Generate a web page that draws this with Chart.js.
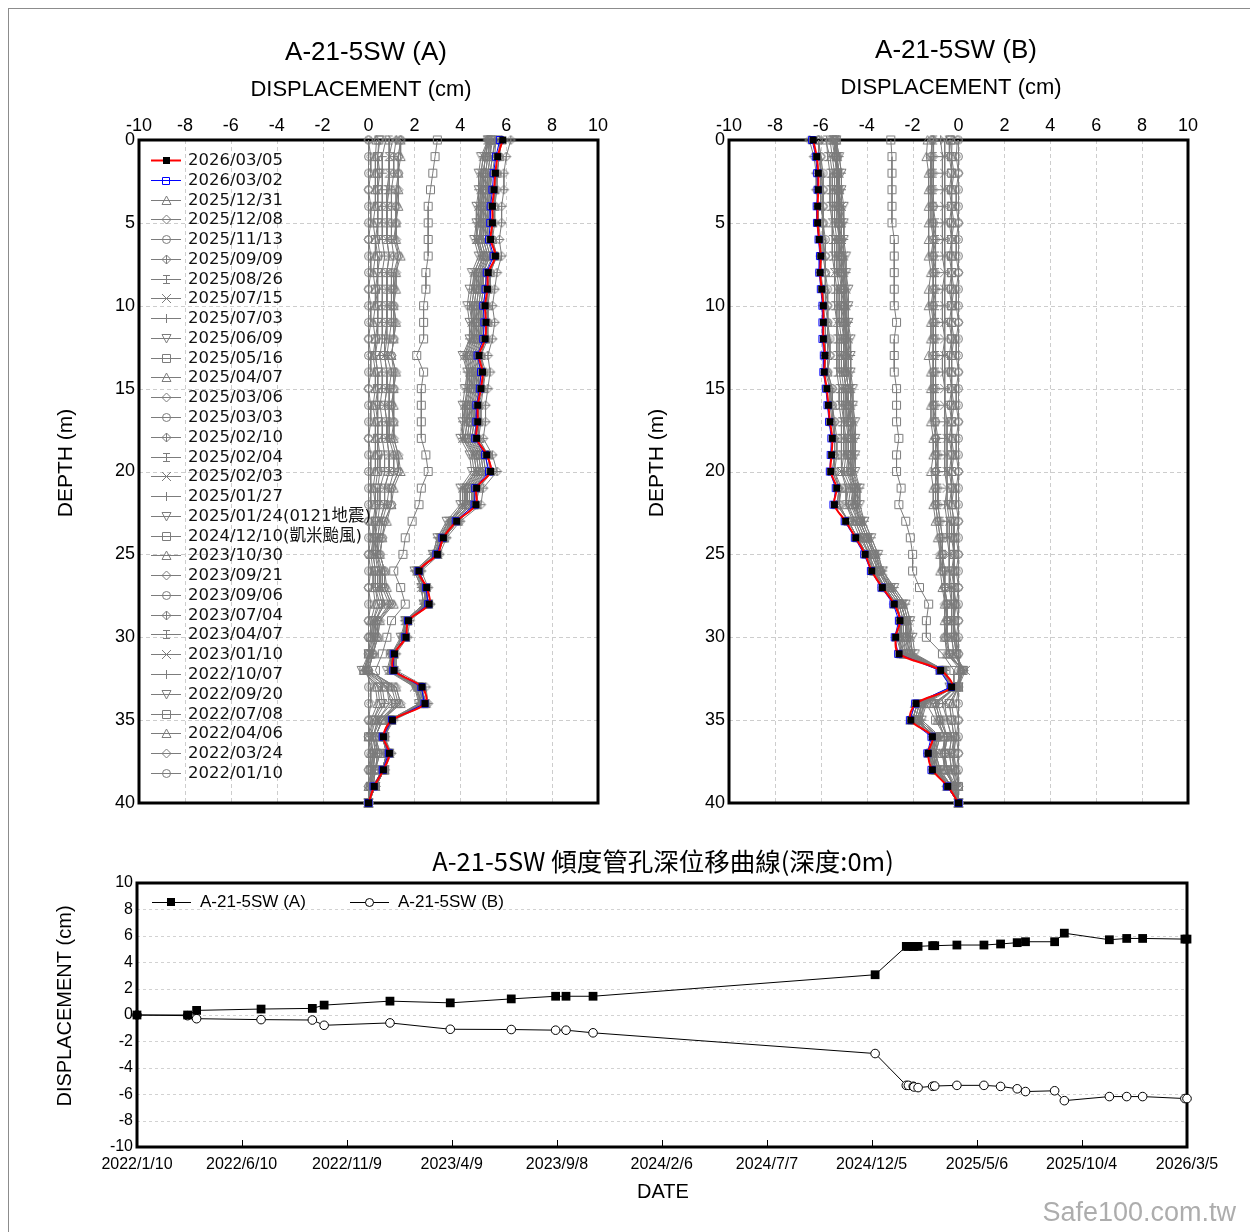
<!DOCTYPE html>
<html><head><meta charset="utf-8">
<script src="https://cdn.jsdelivr.net/npm/chart.js@4/dist/chart.umd.min.js"></script>
<style>
html,body{margin:0;padding:0;background:#fff;}
#page{position:relative;width:1250px;height:1232px;overflow:hidden;background:#fff;}
#frame{position:absolute;left:8px;top:8px;width:1300px;height:1300px;border-left:1px solid #8c8c8c;border-top:1px solid #8c8c8c;}
canvas{position:absolute;}
</style></head><body>
<div id="page"><div id="frame"></div>
<canvas id="cA" width="640" height="830" style="left:0;top:0"></canvas>
<canvas id="cB" width="640" height="830" style="left:590px;top:0"></canvas>
<canvas id="cT" width="1250" height="392" style="left:0;top:840px"></canvas>
</div>
<script>
// ---------------- DATA ----------------
const DEPTHS = [0,1,2,3,4,5,6,7,8,9,10,11,12,13,14,15,16,17,18,19,20,21,22,23,24,25,26,27,28,29,30,31,32,33,34,35,36,37,38,39,40];
const PROFILE_DATES = ['2026/03/05','2026/03/02','2025/12/31','2025/12/08','2025/11/13','2025/09/09','2025/08/26','2025/07/15','2025/07/03','2025/06/09','2025/05/16','2025/04/07','2025/03/06','2025/03/03','2025/02/10','2025/02/04','2025/02/03','2025/01/27','2025/01/24(0121地震)','2024/12/10(凱米颱風)','2023/10/30','2023/09/21','2023/09/06','2023/07/04','2023/04/07','2023/01/10','2022/10/07','2022/09/20','2022/07/08','2022/04/06','2022/03/24','2022/01/10'];
const X_TICKS_PROFILE = [-10,-8,-6,-4,-2,0,2,4,6,8,10];

// ----- Profile A (cm) -----
const A_260305 = [5.85,5.63,5.53,5.47,5.40,5.40,5.32,5.53,5.22,5.18, 5.08,5.12,5.08,4.82,4.97,4.90,4.76,4.76,4.71,5.15, 5.32,4.71,4.68,3.84,3.26,3.00,2.20,2.53,2.64,1.74, 1.63,1.13,1.11,2.33,2.46,1.04,0.65,0.91,0.65,0.25, 0];
const A_260302 = [5.72,5.55,5.45,5.40,5.32,5.30,5.25,5.45,5.15,5.10, 5.00,5.05,5.00,4.75,4.90,4.85,4.70,4.70,4.65,5.08, 5.25,4.65,4.62,3.80,3.22,2.96,2.18,2.50,2.60,1.72, 1.60,1.10,1.08,2.30,2.44,1.02,0.62,0.88,0.62,0.22, 0];
const A_251231 = [5.8,5.7,5.6,5.5,5.5,5.4,5.4,5.6,5.3,5.2, 5.2,5.2,5.1,4.9,5.0,5.0,4.8,4.8,4.8,5.2, 5.3,4.8,4.7,3.9,3.3,3.0,2.2,2.5,2.6,1.7, 1.6,1.1,1.1,2.3,2.5,1.0,0.7,0.9,0.7,0.3, 0];
const A_251208 = [5.8,5.7,5.6,5.6,5.5,5.5,5.4,5.6,5.3,5.3, 5.2,5.2,5.2,4.9,5.1,5.0,4.9,4.9,4.8,5.2, 5.4,4.8,4.7,3.9,3.3,3.0,2.2,2.5,2.6,1.7, 1.6,1.1,1.1,2.3,2.5,1.0,0.7,0.9,0.7,0.3, 0];
const A_251113 = [5.7,5.7,5.6,5.5,5.5,5.4,5.4,5.5,5.3,5.2, 5.1,5.2,5.1,4.9,5.0,4.9,4.8,4.8,4.7,5.2, 5.3,4.7,4.7,3.9,3.3,3.0,2.2,2.5,2.6,1.7, 1.6,1.1,1.1,2.3,2.5,1.0,0.7,0.9,0.7,0.3, 0];
const A_250909 = [6.2,6.0,5.9,5.9,5.8,5.8,5.7,5.8,5.6,5.5, 5.4,5.5,5.4,5.2,5.3,5.2,5.1,5.1,5.0,5.4, 5.6,5.0,4.9,4.0,3.4,3.1,2.3,2.6,2.7,1.8, 1.7,1.2,1.2,2.5,2.6,1.1,0.7,1.0,0.7,0.3, 0];
const A_250826 = [5.55,5.5,5.4,5.3,5.3,5.2,5.2,5.4,5.1,5.1, 5.0,5.0,5.0,4.7,4.9,4.8,4.7,4.7,4.6,5.1, 5.2,4.6,4.6,3.8,3.3,3.0,2.2,2.5,2.6,1.7, 1.6,1.1,1.1,2.3,2.5,1.0,0.7,0.9,0.7,0.3, 0];
const A_250715 = [5.55,5.4,5.3,5.3,5.2,5.2,5.1,5.3,5.0,5.0, 4.9,5.0,4.9,4.7,4.8,4.8,4.6,4.7,4.6,5.0, 5.1,4.6,4.6,3.8,3.3,3.0,2.2,2.5,2.6,1.7, 1.6,1.1,1.1,2.3,2.4,1.0,0.7,0.9,0.7,0.3, 0];
const A_250703 = [5.5,5.4,5.3,5.2,5.2,5.1,5.1,5.3,5.0,5.0, 4.9,4.9,4.9,4.6,4.8,4.7,4.6,4.6,4.5,5.0, 5.1,4.5,4.5,3.7,3.2,3.0,2.2,2.5,2.6,1.7, 1.6,1.1,1.1,2.3,2.4,1.0,0.7,0.9,0.7,0.3, 0];
const A_250609 = [5.4,5.3,5.2,5.2,5.1,5.1,5.0,5.2,5.0,4.9, 4.8,4.9,4.8,4.6,4.7,4.7,4.5,4.6,4.5,4.9, 5.0,4.5,4.5,3.7,3.2,3.0,2.2,2.5,2.6,1.7, 1.6,1.1,1.1,2.2,2.4,1.0,0.7,0.9,0.7,0.3, 0];
const A_250516 = [5.3,5.3,5.2,5.1,5.1,5.0,5.0,5.2,4.9,4.9, 4.8,4.8,4.8,4.5,4.7,4.6,4.5,4.5,4.4,4.9, 5.0,4.4,4.4,3.7,3.2,3.0,2.2,2.5,2.5,1.7, 1.6,1.1,1.1,2.2,2.4,1.0,0.7,0.9,0.7,0.3, 0];
const A_250407 = [5.3,5.2,5.1,5.1,5.0,5.0,4.9,5.1,4.9,4.8, 4.7,4.8,4.7,4.5,4.6,4.6,4.4,4.5,4.4,4.8, 4.9,4.4,4.4,3.7,3.2,3.0,2.2,2.4,2.5,1.7, 1.6,1.1,1.0,2.2,2.4,1.0,0.6,0.9,0.6,0.2, 0];
const A_250306 = [5.25,5.2,5.1,5.0,5.0,4.9,4.9,5.1,4.8,4.8, 4.7,4.7,4.7,4.4,4.6,4.5,4.4,4.4,4.3,4.8, 4.9,4.3,4.3,3.6,3.2,2.9,2.2,2.4,2.5,1.7, 1.5,1.1,1.0,2.2,2.3,1.0,0.6,0.8,0.6,0.2, 0];
const A_250303 = [5.25,5.1,5.0,5.0,4.9,4.9,4.8,5.0,4.8,4.7, 4.6,4.7,4.6,4.4,4.5,4.5,4.3,4.4,4.3,4.7, 4.8,4.3,4.3,3.6,3.2,2.9,2.1,2.4,2.5,1.7, 1.5,1.0,1.0,2.1,2.3,1.0,0.6,0.8,0.6,0.2, 0];
const A_250210 = [5.2,5.1,5.0,5.0,4.9,4.9,4.8,5.0,4.7,4.7, 4.6,4.6,4.6,4.3,4.5,4.4,4.3,4.3,4.2,4.7, 4.8,4.2,4.2,3.6,3.1,2.9,2.1,2.4,2.5,1.6, 1.5,1.0,1.0,2.1,2.3,0.9,0.6,0.8,0.6,0.2, 0];
const A_250204 = [5.2,5.1,5.0,4.9,4.9,4.8,4.7,5.0,4.7,4.6, 4.5,4.6,4.5,4.3,4.4,4.4,4.2,4.3,4.2,4.6, 4.7,4.2,4.2,3.5,3.1,2.9,2.1,2.4,2.5,1.6, 1.5,1.0,1.0,2.1,2.3,0.9,0.6,0.8,0.6,0.2, 0];
const A_250203 = [5.2,5.0,4.9,4.9,4.8,4.8,4.7,4.9,4.6,4.6, 4.5,4.5,4.5,4.2,4.4,4.3,4.2,4.2,4.1,4.6, 4.7,4.1,4.1,3.5,3.1,2.8,2.1,2.3,2.4,1.6, 1.5,1.0,0.9,2.0,2.3,0.9,0.6,0.8,0.6,0.2, 0];
const A_250127 = [5.2,5.0,4.9,4.8,4.8,4.7,4.7,4.9,4.6,4.5, 4.4,4.5,4.4,4.2,4.3,4.3,4.2,4.1,4.1,4.5, 4.6,4.1,4.1,3.5,3.0,2.8,2.0,2.3,2.4,1.6, 1.5,1.0,0.9,2.1,2.2,0.9,0.6,0.8,0.6,0.2, 0];
const A_250124 = [5.2,4.9,4.8,4.8,4.7,4.7,4.6,4.8,4.5,4.4, 4.3,4.4,4.4,4.1,4.3,4.2,4.1,4.1,4.0,4.4, 4.5,4.0,4.0,3.4,3.0,2.8,2.0,2.3,2.4,1.6, 1.4,1.0,0.8,2.0,2.2,0.9,0.6,0.8,0.6,0.2, 0];
const A_241210 = [3.0,2.9,2.8,2.7,2.6,2.6,2.6,2.6,2.5,2.5, 2.4,2.4,2.4,2.1,2.4,2.3,2.3,2.3,2.3,2.5, 2.6,2.3,2.2,1.9,1.6,1.5,1.1,1.4,1.6,1.0, 0.8,0.6,0.3,0.7,1.2,0.6,0.3,0.4,0.3,0.1, 0];
const A_231030 = [1.4,1.4,1.3,1.3,1.3,1.2,1.2,1.4,1.2,1.2, 1.1,1.2,1.1,1.0,1.2,1.1,1.1,1.1,1.1,1.3, 1.4,1.1,1.0,0.8,0.6,0.5,0.7,0.8,1.1,0.5, 0.4,0.2,0.0,1.2,1.4,0.6,0.3,0.5,0.3,0.2, 0];
const A_230921 = [1.4,1.3,1.3,1.3,1.2,1.2,1.2,1.3,1.2,1.1, 1.1,1.2,1.1,1.0,1.2,1.1,1.0,1.1,1.1,1.3, 1.3,1.0,1.0,0.7,0.6,0.5,0.7,0.7,1.0,0.5, 0.4,0.2,0.0,1.2,1.4,0.6,0.3,0.5,0.3,0.2, 0];
const A_230906 = [1.4,1.3,1.3,1.2,1.2,1.2,1.1,1.3,1.1,1.1, 1.1,1.1,1.1,1.0,1.1,1.1,1.0,1.1,1.0,1.2, 1.3,1.0,1.0,0.7,0.6,0.5,0.7,0.7,1.0,0.4, 0.4,0.2,0.0,1.1,1.3,0.6,0.3,0.4,0.3,0.2, 0];
const A_230704 = [1.2,1.1,1.1,1.0,1.0,1.0,1.0,1.1,1.0,1.0, 1.0,1.0,0.9,0.8,1.0,0.9,0.9,0.9,0.9,1.1, 1.1,0.9,0.8,0.6,0.5,0.4,0.6,0.6,0.9,0.4, 0.3,0.2,-0.1,1.0,1.2,0.5,0.2,0.4,0.3,0.1, 0];
const A_230407 = [0.9,0.9,0.9,0.8,0.8,0.8,0.8,0.9,0.8,0.8, 0.8,0.8,0.7,0.7,0.8,0.8,0.7,0.8,0.8,0.9, 0.9,0.7,0.7,0.5,0.4,0.4,0.5,0.5,0.7,0.3, 0.3,0.1,-0.2,0.8,1.0,0.4,0.2,0.3,0.2,0.1, 0];
const A_230110 = [1.05,0.9,0.9,0.9,0.8,0.8,0.8,0.9,0.8,0.8, 0.8,0.8,0.8,0.7,0.8,0.8,0.7,0.8,0.8,0.9, 0.9,0.7,0.7,0.5,0.4,0.3,0.5,0.5,0.7,0.3, 0.3,0.1,-0.1,0.8,0.9,0.4,0.2,0.3,0.2,0.1, 0];
const A_221007 = [0.75,0.6,0.6,0.6,0.6,0.6,0.6,0.7,0.6,0.6, 0.6,0.6,0.6,0.5,0.6,0.6,0.5,0.6,0.6,0.7, 0.7,0.5,0.5,0.4,0.3,0.3,0.4,0.4,0.6,0.3, 0.2,0.1,-0.2,0.6,0.7,0.3,0.1,0.2,0.2,0.1, 0];
const A_220920 = [0.5,0.4,0.5,0.4,0.4,0.4,0.4,0.5,0.4,0.4, 0.4,0.4,0.4,0.3,0.4,0.4,0.4,0.4,0.4,0.5, 0.5,0.4,0.4,0.3,0.3,0.2,0.3,0.3,0.5,0.2, 0.2,0.0,-0.3,0.5,0.6,0.2,0.1,0.2,0.1,0.1, 0];
const A_220708 = [0.45,0.4,0.4,0.4,0.4,0.4,0.3,0.4,0.4,0.3, 0.4,0.4,0.3,0.3,0.4,0.4,0.3,0.4,0.4,0.4, 0.4,0.3,0.3,0.3,0.2,0.2,0.3,0.3,0.4,0.2, 0.1,0.0,-0.2,0.4,0.5,0.2,0.0,0.2,0.1,0.1, 0];
const A_220406 = [0.35,0.3,0.3,0.3,0.3,0.2,0.3,0.3,0.2,0.3, 0.3,0.2,0.3,0.2,0.3,0.3,0.2,0.3,0.3,0.3, 0.3,0.2,0.3,0.2,0.2,0.1,0.2,0.2,0.3,0.1, 0.1,0.0,-0.2,0.3,0.4,0.1,0.0,0.1,0.1,0.0, 0];
const A_220324 = [0.0,0.1,0.1,0.0,0.1,0.1,0.0,0.1,0.1,0.0, 0.1,0.1,0.0,0.1,0.1,0.0,0.1,0.1,0.0,0.1, 0.1,0.1,0.1,0.0,0.1,0.0,0.1,0.0,0.1,0.0, 0.0,0.0,-0.1,0.1,0.1,0.0,0.0,0.1,0.0,0.0, 0];
const A_220110 = [0,0,0,0,0,0,0,0,0,0, 0,0,0,0,0,0,0,0,0,0, 0,0,0,0,0,0,0,0,0,0, 0,0,0,0,0,0,0,0,0,0, 0];

// ----- Profile B (cm) -----
const B_260305 = [-6.33,-6.18,-6.11,-6.11,-6.14,-6.14,-6.07,-6.00,-6.03,-5.96, -5.89,-5.89,-5.89,-5.82,-5.85,-5.74,-5.67,-5.60,-5.50,-5.53, -5.57,-5.31,-5.41,-4.92,-4.48,-4.07,-3.78,-3.32,-2.80,-2.55, -2.74,-2.59,-0.78,-0.30,-1.85,-2.08,-1.14,-1.32,-1.14,-0.47, 0];
const B_260302 = [-6.38,-6.22,-6.16,-6.14,-6.18,-6.17,-6.10,-6.04,-6.07,-6.00, -5.93,-5.93,-5.93,-5.87,-5.89,-5.78,-5.71,-5.64,-5.54,-5.57, -5.61,-5.35,-5.45,-4.96,-4.52,-4.11,-3.82,-3.36,-2.84,-2.60, -2.78,-2.63,-0.82,-0.34,-1.89,-2.12,-1.18,-1.36,-1.18,-0.50, 0];
const B_251231 = [-6.1,-6.1,-6.0,-6.0,-6.0,-5.9,-5.9,-5.9,-5.8,-5.8, -5.8,-5.7,-5.7,-5.7,-5.7,-5.6,-5.5,-5.5,-5.4,-5.4, -5.5,-5.2,-5.3,-4.8,-4.4,-4.0,-3.7,-3.3,-2.8,-2.5, -2.7,-2.5,-0.8,-0.3,-1.9,-2.1,-1.1,-1.3,-1.1,-0.5, 0];
const B_251208 = [-6.1,-6.0,-6.0,-5.9,-5.9,-5.9,-5.9,-5.8,-5.8,-5.8, -5.7,-5.7,-5.7,-5.6,-5.7,-5.5,-5.5,-5.4,-5.4,-5.4, -5.4,-5.2,-5.2,-4.8,-4.4,-4.0,-3.7,-3.3,-2.8,-2.5, -2.6,-2.5,-0.8,-0.3,-1.8,-2.0,-1.1,-1.3,-1.1,-0.5, 0];
const B_251113 = [-6.1,-6.0,-5.9,-5.9,-5.9,-5.9,-5.8,-5.8,-5.8,-5.7, -5.7,-5.7,-5.6,-5.6,-5.7,-5.5,-5.5,-5.4,-5.3,-5.3, -5.4,-5.1,-5.2,-4.8,-4.4,-4.0,-3.7,-3.2,-2.8,-2.5, -2.6,-2.5,-0.8,-0.3,-1.8,-2.0,-1.1,-1.3,-1.1,-0.5, 0];
const B_250909 = [-6.5,-6.3,-6.2,-6.2,-6.1,-6.1,-6.0,-6.0,-6.0,-5.9, -5.9,-5.8,-5.8,-5.8,-5.8,-5.6,-5.6,-5.5,-5.4,-5.4, -5.5,-5.2,-5.3,-4.8,-4.4,-4.0,-3.7,-3.2,-2.7,-2.5, -2.6,-2.4,-0.7,-0.2,-1.8,-2.0,-1.1,-1.3,-1.1,-0.5, 0];
const B_250826 = [-5.75,-5.7,-5.6,-5.6,-5.6,-5.5,-5.5,-5.5,-5.4,-5.4, -5.4,-5.3,-5.3,-5.3,-5.3,-5.2,-5.2,-5.1,-5.1,-5.1, -5.1,-4.9,-4.9,-4.6,-4.3,-3.9,-3.7,-3.2,-2.7,-2.5, -2.6,-2.4,-0.7,-0.3,-1.8,-2.0,-1.1,-1.2,-1.1,-0.4, 0];
const B_250715 = [-5.8,-5.6,-5.5,-5.5,-5.5,-5.5,-5.4,-5.4,-5.4,-5.3, -5.3,-5.3,-5.2,-5.2,-5.2,-5.1,-5.1,-5.0,-5.0,-5.0, -5.1,-4.8,-4.9,-4.5,-4.2,-3.9,-3.6,-3.2,-2.7,-2.5, -2.5,-2.4,-0.7,-0.3,-1.8,-2.0,-1.1,-1.2,-1.1,-0.4, 0];
const B_250703 = [-5.6,-5.5,-5.4,-5.4,-5.4,-5.4,-5.3,-5.3,-5.3,-5.2, -5.2,-5.2,-5.1,-5.1,-5.1,-5.0,-5.0,-5.0,-4.9,-4.9, -5.0,-4.7,-4.8,-4.5,-4.2,-3.9,-3.6,-3.2,-2.7,-2.5, -2.5,-2.3,-0.7,-0.3,-1.7,-1.9,-1.0,-1.2,-1.0,-0.4, 0];
const B_250609 = [-5.4,-5.4,-5.3,-5.3,-5.3,-5.3,-5.2,-5.2,-5.2,-5.1, -5.1,-5.1,-5.0,-5.0,-5.0,-4.9,-4.9,-4.9,-4.8,-4.8, -4.9,-4.6,-4.7,-4.4,-4.1,-3.8,-3.5,-3.1,-2.6,-2.4, -2.4,-2.3,-0.7,-0.3,-1.7,-1.9,-1.0,-1.2,-1.0,-0.4, 0];
const B_250516 = [-5.33,-5.3,-5.3,-5.3,-5.3,-5.2,-5.2,-5.2,-5.1,-5.1, -5.1,-5.0,-5.0,-5.0,-5.0,-4.9,-4.9,-4.8,-4.8,-4.8, -4.8,-4.6,-4.6,-4.4,-4.1,-3.8,-3.5,-3.1,-2.6,-2.4, -2.4,-2.2,-0.7,-0.3,-1.7,-1.9,-1.0,-1.2,-1.0,-0.4, 0];
const B_250407 = [-5.33,-5.3,-5.3,-5.2,-5.2,-5.2,-5.2,-5.1,-5.1,-5.1, -5.0,-5.0,-5.0,-4.9,-5.0,-4.9,-4.8,-4.8,-4.7,-4.7, -4.8,-4.5,-4.6,-4.3,-4.0,-3.7,-3.5,-3.0,-2.5,-2.3, -2.3,-2.2,-0.7,-0.3,-1.6,-1.8,-1.0,-1.1,-1.0,-0.4, 0];
const B_250306 = [-5.38,-5.3,-5.2,-5.2,-5.2,-5.1,-5.1,-5.1,-5.0,-5.0, -5.0,-4.9,-4.9,-4.9,-4.9,-4.8,-4.8,-4.7,-4.7,-4.7, -4.7,-4.5,-4.5,-4.3,-4.0,-3.7,-3.4,-3.0,-2.5,-2.3, -2.3,-2.1,-0.7,-0.3,-1.6,-1.8,-1.0,-1.1,-1.0,-0.4, 0];
const B_250303 = [-5.4,-5.3,-5.3,-5.2,-5.2,-5.2,-5.1,-5.1,-5.1,-5.0, -5.0,-4.9,-4.9,-4.9,-4.9,-4.8,-4.8,-4.7,-4.7,-4.7, -4.7,-4.5,-4.5,-4.3,-4.0,-3.7,-3.4,-3.0,-2.5,-2.3, -2.3,-2.1,-0.7,-0.3,-1.6,-1.8,-1.0,-1.1,-0.9,-0.4, 0];
const B_250210 = [-5.5,-5.4,-5.3,-5.3,-5.2,-5.2,-5.2,-5.1,-5.1,-5.0, -5.0,-5.0,-4.9,-4.9,-4.9,-4.8,-4.8,-4.7,-4.7,-4.7, -4.7,-4.5,-4.5,-4.3,-4.0,-3.6,-3.4,-3.0,-2.5,-2.3, -2.2,-2.1,-0.7,-0.3,-1.6,-1.7,-0.9,-1.1,-0.9,-0.4, 0];
const B_250204 = [-5.45,-5.3,-5.2,-5.2,-5.2,-5.1,-5.1,-5.1,-5.0,-5.0, -4.9,-4.9,-4.9,-4.8,-4.8,-4.7,-4.7,-4.7,-4.6,-4.6, -4.7,-4.4,-4.5,-4.2,-3.9,-3.6,-3.4,-2.9,-2.4,-2.2, -2.2,-2.0,-0.6,-0.3,-1.5,-1.7,-0.9,-1.1,-0.9,-0.3, 0];
const B_250203 = [-5.4,-5.3,-5.2,-5.2,-5.1,-5.1,-5.1,-5.0,-5.0,-4.9, -4.9,-4.9,-4.8,-4.8,-4.8,-4.7,-4.7,-4.6,-4.6,-4.6, -4.6,-4.4,-4.4,-4.2,-3.9,-3.6,-3.3,-2.9,-2.4,-2.2, -2.1,-2.0,-0.6,-0.3,-1.5,-1.7,-0.9,-1.0,-0.9,-0.3, 0];
const B_250127 = [-5.33,-5.2,-5.1,-5.1,-5.1,-5.0,-5.0,-5.0,-4.9,-4.9, -4.8,-4.8,-4.8,-4.7,-4.7,-4.7,-4.6,-4.6,-4.5,-4.5, -4.6,-4.3,-4.4,-4.1,-3.8,-3.5,-3.3,-2.8,-2.3,-2.1, -2.1,-2.0,-0.6,-0.3,-1.5,-1.6,-0.8,-1.0,-0.8,-0.3, 0];
const B_250124 = [-5.33,-5.2,-5.1,-5.1,-5.0,-5.0,-5.0,-4.9,-4.9,-4.8, -4.8,-4.8,-4.7,-4.7,-4.7,-4.6,-4.6,-4.5,-4.5,-4.5, -4.5,-4.3,-4.3,-4.1,-3.8,-3.5,-3.3,-2.8,-2.3,-2.1, -2.0,-1.9,-0.6,-0.4,-1.4,-1.6,-0.8,-1.0,-0.8,-0.3, 0];
const B_241210 = [-2.95,-2.9,-2.9,-2.9,-2.9,-2.9,-2.8,-2.8,-2.8,-2.8, -2.8,-2.7,-2.8,-2.8,-2.8,-2.7,-2.7,-2.7,-2.6,-2.7, -2.7,-2.5,-2.6,-2.3,-2.1,-2.0,-2.0,-1.7,-1.3,-1.4, -1.4,-0.7,-0.2,-0.2,-1.4,-1.0,-0.6,-0.6,-0.6,-0.2, 0];
const B_231030 = [-1.35,-1.4,-1.3,-1.3,-1.3,-1.3,-1.3,-1.3,-1.2,-1.3, -1.3,-1.2,-1.2,-1.3,-1.2,-1.2,-1.2,-1.2,-1.1,-1.1, -1.2,-1.1,-1.1,-1.0,-0.9,-0.8,-0.8,-0.7,-0.6,-0.6, -0.6,-0.5,0.1,-0.1,-1.1,-0.9,-0.6,-0.7,-0.6,-0.2, 0];
const B_230921 = [-1.15,-1.2,-1.2,-1.2,-1.2,-1.2,-1.1,-1.2,-1.1,-1.1, -1.2,-1.1,-1.1,-1.1,-1.1,-1.1,-1.1,-1.1,-1.0,-1.0, -1.0,-1.0,-1.0,-0.9,-0.8,-0.8,-0.7,-0.6,-0.6,-0.5, -0.6,-0.5,0.2,-0.1,-1.1,-0.9,-0.6,-0.7,-0.6,-0.2, 0];
const B_230906 = [-1.15,-1.2,-1.2,-1.2,-1.1,-1.1,-1.1,-1.1,-1.1,-1.1, -1.1,-1.1,-1.1,-1.1,-1.1,-1.1,-1.1,-1.0,-1.0,-1.0, -1.0,-1.0,-1.0,-0.9,-0.8,-0.7,-0.7,-0.6,-0.5,-0.5, -0.6,-0.4,0.2,-0.1,-1.0,-0.8,-0.5,-0.6,-0.5,-0.2, 0];
const B_230704 = [-1.1,-1.1,-1.1,-1.1,-1.1,-1.1,-1.0,-1.1,-1.0,-1.0, -1.1,-1.0,-1.0,-1.0,-1.0,-1.0,-1.0,-1.0,-1.0,-0.9, -1.0,-0.9,-0.9,-0.8,-0.7,-0.7,-0.6,-0.6,-0.5,-0.5, -0.5,-0.4,0.2,-0.1,-1.0,-0.8,-0.5,-0.6,-0.5,-0.2, 0];
const B_230407 = [-1.08,-1.1,-1.1,-1.1,-1.1,-1.0,-1.0,-1.0,-1.0,-1.0, -1.0,-1.0,-1.0,-1.0,-1.0,-1.0,-1.0,-1.0,-0.9,-0.9, -0.9,-0.9,-0.9,-0.8,-0.7,-0.7,-0.6,-0.6,-0.5,-0.5, -0.5,-0.4,0.2,-0.1,-0.9,-0.7,-0.5,-0.6,-0.5,-0.1, 0];
const B_230110 = [-0.6,-0.6,-0.6,-0.6,-0.6,-0.6,-0.6,-0.6,-0.6,-0.6, -0.6,-0.6,-0.6,-0.6,-0.6,-0.6,-0.6,-0.5,-0.5,-0.5, -0.5,-0.5,-0.5,-0.4,-0.4,-0.4,-0.4,-0.3,-0.3,-0.3, -0.3,-0.2,0.3,0.0,-0.6,-0.5,-0.3,-0.4,-0.3,-0.1, 0];
const B_221007 = [-0.78,-0.7,-0.7,-0.7,-0.7,-0.7,-0.7,-0.7,-0.6,-0.7, -0.7,-0.7,-0.6,-0.7,-0.7,-0.6,-0.6,-0.6,-0.6,-0.6, -0.6,-0.5,-0.6,-0.5,-0.5,-0.4,-0.4,-0.4,-0.3,-0.3, -0.3,-0.2,0.2,0.0,-0.7,-0.5,-0.3,-0.4,-0.3,-0.1, 0];
const B_220920 = [-0.38,-0.4,-0.3,-0.4,-0.3,-0.4,-0.3,-0.4,-0.3,-0.4, -0.3,-0.4,-0.3,-0.4,-0.4,-0.3,-0.4,-0.3,-0.4,-0.3, -0.4,-0.3,-0.4,-0.3,-0.3,-0.2,-0.3,-0.2,-0.2,-0.2, -0.2,-0.1,0.2,0.0,-0.4,-0.3,-0.2,-0.3,-0.2,-0.1, 0];
const B_220708 = [-0.35,-0.3,-0.3,-0.3,-0.3,-0.3,-0.3,-0.3,-0.3,-0.3, -0.3,-0.3,-0.3,-0.3,-0.3,-0.3,-0.3,-0.3,-0.3,-0.3, -0.3,-0.3,-0.3,-0.2,-0.2,-0.2,-0.2,-0.2,-0.2,-0.2, -0.2,-0.1,0.2,0.0,-0.4,-0.3,-0.2,-0.2,-0.2,0.0, 0];
const B_220406 = [-0.28,-0.3,-0.2,-0.3,-0.3,-0.2,-0.3,-0.3,-0.3,-0.2, -0.3,-0.3,-0.2,-0.3,-0.3,-0.3,-0.2,-0.3,-0.3,-0.2, -0.3,-0.2,-0.3,-0.2,-0.2,-0.2,-0.2,-0.2,-0.1,-0.2, -0.1,-0.1,0.1,0.0,-0.3,-0.2,-0.1,-0.2,-0.1,0.0, 0];
const B_220324 = [-0.05,-0.1,0.0,-0.1,-0.1,0.0,-0.1,-0.1,0.0,-0.1, -0.1,0.0,-0.1,-0.1,0.0,-0.1,-0.1,0.0,-0.1,-0.1, 0.0,-0.1,-0.1,0.0,-0.1,0.0,-0.1,0.0,-0.1,0.0, -0.1,0.0,0.1,0.0,-0.1,0.0,-0.1,0.0,-0.1,0.0, 0];
const B_220110 = [0,0,0,0,0,0,0,0,0,0, 0,0,0,0,0,0,0,0,0,0, 0,0,0,0,0,0,0,0,0,0, 0,0,0,0,0,0,0,0,0,0, 0];

const SERIES_A = [A_260305,A_260302,A_251231,A_251208,A_251113,A_250909,A_250826,A_250715,A_250703,A_250609,A_250516,A_250407,A_250306,A_250303,A_250210,A_250204,A_250203,A_250127,A_250124,A_241210,A_231030,A_230921,A_230906,A_230704,A_230407,A_230110,A_221007,A_220920,A_220708,A_220406,A_220324,A_220110];
const SERIES_B = [B_260305,B_260302,B_251231,B_251208,B_251113,B_250909,B_250826,B_250715,B_250703,B_250609,B_250516,B_250407,B_250306,B_250303,B_250210,B_250204,B_250203,B_250127,B_250124,B_241210,B_231030,B_230921,B_230906,B_230704,B_230407,B_230110,B_221007,B_220920,B_220708,B_220406,B_220324,B_220110];

// ----- Time history at depth 0 m -----
const TS_DATES = ['2022/01/10','2022/03/24','2022/04/06','2022/07/08','2022/09/20','2022/10/07','2023/01/10','2023/04/07','2023/07/04','2023/09/06','2023/09/21','2023/10/30','2024/12/10','2025/01/24','2025/01/27','2025/02/03','2025/02/04','2025/02/10','2025/03/03','2025/03/06','2025/04/07','2025/05/16','2025/06/09','2025/07/03','2025/07/15','2025/08/26','2025/09/09','2025/11/13','2025/12/08','2025/12/31','2026/03/02','2026/03/05'];
const TS_A = [0,0.0,0.35,0.45,0.5,0.75,1.05,0.92,1.22,1.42,1.42,1.42,3.05,5.2,5.2,5.2,5.2,5.2,5.25,5.25,5.3,5.3,5.38,5.48,5.55,5.55,6.2,5.7,5.8,5.8,5.75,5.75];
const TS_B = [0,-0.05,-0.28,-0.35,-0.38,-0.78,-0.6,-1.08,-1.1,-1.15,-1.15,-1.35,-2.92,-5.33,-5.33,-5.4,-5.45,-5.5,-5.4,-5.38,-5.33,-5.33,-5.41,-5.59,-5.8,-5.74,-6.49,-6.18,-6.18,-6.18,-6.33,-6.33];
const X_TICK_LABELS = ['2022/1/10','2022/6/10','2022/11/9','2023/4/9','2023/9/8','2024/2/6','2024/7/7','2024/12/5','2025/5/6','2025/10/4','2026/3/5'];
const Y_TICKS_TS = [-10,-8,-6,-4,-2,0,2,4,6,8,10];

// ---------------- STYLE ----------------
const LAT = "'Liberation Sans', Arial, sans-serif";
const LEG = "'DejaVu Sans', 'Noto Sans CJK TC', sans-serif";
const CJK = "'Noto Sans CJK TC', 'Liberation Sans', sans-serif";
const MARKER_KINDS = ['fillSquare','square','tri','diamond','circle','diamondPlus','ibar','x','plus','triDown','square','tri','diamond','circle','diamondPlus','ibar','x','plus','triDown','square','tri','diamond','circle','diamondPlus','ibar','x','plus','triDown','square','tri','diamond','circle'];
const GRAY = '#7c7c7c';

function markerCanvas(kind, stroke, fill, s) {
  const w = s + 4, c = document.createElement('canvas');
  c.width = w; c.height = w;
  const g = c.getContext('2d');
  const m = w / 2, r = s / 2;
  g.strokeStyle = stroke; g.lineWidth = 1; g.fillStyle = fill || 'rgba(0,0,0,0)';
  const diamond = () => { g.beginPath(); g.moveTo(m, m - r); g.lineTo(m + r, m); g.lineTo(m, m + r); g.lineTo(m - r, m); g.closePath(); };
  switch (kind) {
    case 'fillSquare': g.fillStyle = fill; g.fillRect(m - r, m - r, s, s); break;
    case 'square': g.beginPath(); g.rect(m - r + 0.5, m - r + 0.5, s - 1, s - 1); if (fill) g.fill(); g.stroke(); break;
    case 'tri': g.beginPath(); g.moveTo(m, m - r); g.lineTo(m + r, m + r - 0.5); g.lineTo(m - r, m + r - 0.5); g.closePath(); if (fill) g.fill(); g.stroke(); break;
    case 'triDown': g.beginPath(); g.moveTo(m, m + r); g.lineTo(m + r, m - r + 0.5); g.lineTo(m - r, m - r + 0.5); g.closePath(); if (fill) g.fill(); g.stroke(); break;
    case 'diamond': diamond(); if (fill) g.fill(); g.stroke(); break;
    case 'circle': g.beginPath(); g.arc(m, m, r - 0.5, 0, Math.PI * 2); if (fill) g.fill(); g.stroke(); break;
    case 'diamondPlus': diamond(); if (fill) g.fill(); g.stroke(); g.beginPath(); g.moveTo(m - r, m); g.lineTo(m + r, m); g.moveTo(m, m - r); g.lineTo(m, m + r); g.stroke(); break;
    case 'ibar': g.beginPath(); g.moveTo(m, m - r); g.lineTo(m, m + r); g.moveTo(m - r + 1, m - r + 0.5); g.lineTo(m + r - 1, m - r + 0.5); g.moveTo(m - r + 1, m + r - 0.5); g.lineTo(m + r - 1, m + r - 0.5); g.stroke(); break;
    case 'x': g.beginPath(); g.moveTo(m - r, m - r); g.lineTo(m + r, m + r); g.moveTo(m + r, m - r); g.lineTo(m - r, m + r); g.stroke(); break;
    case 'plus': g.beginPath(); g.moveTo(m - r, m); g.lineTo(m + r, m); g.moveTo(m, m - r); g.lineTo(m, m + r); g.stroke(); break;
  }
  return c;
}
function seriesStyle(i) {
  if (i === 0) return {line: '#ff0000', lw: 2, img: markerCanvas('fillSquare', '#000', '#000', 7), tension: 0.35};
  if (i === 1) return {line: '#0000ff', lw: 1, img: markerCanvas('square', '#0000ff', null, 8), tension: 0};
  return {line: GRAY, lw: 1, img: markerCanvas(MARKER_KINDS[i], GRAY, null, 9), tension: 0};
}

function dayOf(s) { const p = s.split('/').map(Number); return Math.round((Date.UTC(p[0], p[1] - 1, p[2]) - Date.UTC(2022, 0, 10)) / 86400000); }

// ---------------- PROFILE CHARTS ----------------
const profileDecor = {
  id: 'profileDecor',
  beforeDatasetsDraw(chart, args, o) {
    const {ctx, chartArea: a, scales: {x, y}} = chart;
    ctx.save();
    ctx.strokeStyle = '#cdcdcd'; ctx.lineWidth = 1; ctx.setLineDash([4, 3]);
    x.ticks.forEach(t => { if (t.value <= x.min || t.value >= x.max) return; const px = Math.round(x.getPixelForValue(t.value)) + 0.5; ctx.beginPath(); ctx.moveTo(px, a.top); ctx.lineTo(px, a.bottom); ctx.stroke(); });
    y.ticks.forEach(t => { if (t.value <= y.min || t.value >= y.max) return; const py = Math.round(y.getPixelForValue(t.value)) + 0.5; ctx.beginPath(); ctx.moveTo(a.left, py); ctx.lineTo(a.right, py); ctx.stroke(); });
    ctx.setLineDash([]);
    ctx.strokeStyle = '#000'; ctx.lineWidth = 3;
    ctx.strokeRect(a.left, a.top, a.right - a.left, a.bottom - a.top);
    ctx.restore();
  },
  afterDatasetsDraw(chart, args, o) {
    const ctx = chart.ctx;
    ctx.save();
    ctx.fillStyle = '#000';
    ctx.textAlign = 'center'; ctx.textBaseline = 'alphabetic';
    ctx.font = '26px ' + LAT; ctx.fillText(o.title, o.cx, o.titleY);
    ctx.font = '22px ' + LAT; ctx.fillText('DISPLACEMENT (cm)', o.cx - 5, o.titleY + 36);
    ctx.save(); ctx.translate(o.depthX, 463); ctx.rotate(-Math.PI / 2);
    ctx.font = '21px ' + LAT; ctx.textBaseline = 'middle'; ctx.fillText('DEPTH (m)', 0, 0); ctx.restore();
    if (o.legend) {
      ctx.font = '16.5px ' + LEG; ctx.textAlign = 'left'; ctx.textBaseline = 'middle';
      chart.data.datasets.forEach((ds, i) => {
        const yy = Math.round(160 + i * 19.77);
        ctx.strokeStyle = ds.borderColor; ctx.lineWidth = i === 0 ? 2 : 1;
        ctx.beginPath(); ctx.moveTo(151, yy + 0.5); ctx.lineTo(181, yy + 0.5); ctx.stroke();
        const img = ds.pointStyle;
        ctx.drawImage(img, Math.round(166 - img.width / 2), Math.round(yy + 0.5 - img.height / 2));
        ctx.fillStyle = '#111'; ctx.fillText(ds.label, 188, yy + 1);
      });
    }
    ctx.restore();
  }
};

function makeProfile(id, series, deco) {
  const datasets = series.map((vals, i) => {
    const st = seriesStyle(i);
    return {
      label: PROFILE_DATES[i],
      data: vals.map((v, k) => ({x: v, y: DEPTHS[k]})),
      showLine: true,
      borderColor: st.line, borderWidth: st.lw,
      pointStyle: st.img, pointRadius: 4,
      tension: st.tension, clip: false
    };
  });
  return new Chart(document.getElementById(id), {
    type: 'scatter',
    data: {datasets},
    plugins: [profileDecor],
    options: {
      responsive: false, animation: false, devicePixelRatio: 1, events: [],
      layout: {padding: {left: 0, top: 0, right: 42, bottom: 27}},
      plugins: {legend: {display: false}, tooltip: {enabled: false}, profileDecor: deco},
      scales: {
        x: {type: 'linear', position: 'top', min: -10, max: 10,
            afterBuildTicks: s => { s.ticks = X_TICKS_PROFILE.map(v => ({value: v})); },
            ticks: {font: {family: LAT, size: 18}, color: '#000', padding: 3, maxRotation: 0, autoSkip: false},
            grid: {display: false, drawTicks: false}, border: {display: false},
            afterFit: s => { s.height = 140; }},
        y: {type: 'linear', reverse: true, min: 0, max: 40,
            ticks: {stepSize: 5, font: {family: LAT, size: 18}, color: '#000', padding: 4},
            grid: {display: false, drawTicks: false}, border: {display: false},
            afterFit: s => { s.width = 139; }}
      }
    }
  });
}
makeProfile('cA', SERIES_A, {title: 'A-21-5SW (A)', cx: 366, titleY: 60, depthX: 66, legend: true});
makeProfile('cB', SERIES_B, {title: 'A-21-5SW (B)', cx: 366, titleY: 58, depthX: 67, legend: false});

// ---------------- TIME HISTORY CHART ----------------
const tsDecor = {
  id: 'tsDecor',
  beforeDatasetsDraw(chart) {
    const {ctx, chartArea: a, scales: {x, y}} = chart;
    ctx.save();
    ctx.strokeStyle = '#d2d2d2'; ctx.lineWidth = 1; ctx.setLineDash([3, 3]);
    y.ticks.forEach(t => { if (t.value <= y.min || t.value >= y.max) return; const py = Math.round(y.getPixelForValue(t.value)) + 0.5; ctx.beginPath(); ctx.moveTo(a.left, py); ctx.lineTo(a.right, py); ctx.stroke(); });
    ctx.setLineDash([]);
    ctx.strokeStyle = '#000'; ctx.lineWidth = 1;
    x.ticks.forEach(t => { const px = Math.round(x.getPixelForValue(t.value)) + 0.5; ctx.beginPath(); ctx.moveTo(px, a.bottom); ctx.lineTo(px, a.bottom - 7); ctx.stroke(); });
    ctx.lineWidth = 3;
    ctx.strokeRect(a.left, a.top, a.right - a.left, a.bottom - a.top);
    ctx.restore();
  },
  afterDatasetsDraw(chart) {
    const ctx = chart.ctx;
    ctx.save();
    ctx.fillStyle = '#000'; ctx.textAlign = 'center'; ctx.textBaseline = 'middle';
    ctx.font = '25.5px ' + CJK; ctx.fillText('A-21-5SW 傾度管孔深位移曲線(深度:0m)', 663, 21);
    ctx.font = '20px ' + LAT; ctx.fillText('DATE', 663, 352);
    ctx.save(); ctx.translate(65, 166); ctx.rotate(-Math.PI / 2); ctx.fillText('DISPLACEMENT (cm)', 0, 0); ctx.restore();
    ctx.textAlign = 'right'; ctx.fillStyle = '#adadad'; ctx.font = '27px ' + LAT;
    ctx.fillText('Safe100.com.tw', 1236, 374);
    // legend
    const ly = 62.5;
    ctx.strokeStyle = '#000'; ctx.lineWidth = 1;
    ctx.beginPath(); ctx.moveTo(152, ly); ctx.lineTo(191, ly); ctx.moveTo(350, ly); ctx.lineTo(389, ly); ctx.stroke();
    ctx.fillStyle = '#000'; ctx.fillRect(167, ly - 4.5, 8, 8);
    ctx.beginPath(); ctx.arc(369.5, ly, 4, 0, Math.PI * 2); ctx.fillStyle = '#fff'; ctx.fill(); ctx.stroke();
    ctx.fillStyle = '#000'; ctx.textAlign = 'left'; ctx.font = '17px ' + LAT;
    ctx.fillText(chart.data.datasets[0].label, 200, ly);
    ctx.fillText(chart.data.datasets[1].label, 398, ly);
    ctx.restore();
  }
};
new Chart(document.getElementById('cT'), {
  type: 'scatter',
  data: {datasets: [
    {label: 'A-21-5SW (A)', data: TS_DATES.map((d, i) => ({x: dayOf(d), y: TS_A[i]})), showLine: true,
     borderColor: '#000', borderWidth: 1, pointStyle: 'rect', pointRadius: 6.2, pointBackgroundColor: '#000', pointBorderColor: '#000', pointBorderWidth: 0, clip: false},
    {label: 'A-21-5SW (B)', data: TS_DATES.map((d, i) => ({x: dayOf(d), y: TS_B[i]})), showLine: true,
     borderColor: '#000', borderWidth: 1, pointStyle: 'circle', pointRadius: 4.3, pointBackgroundColor: '#fff', pointBorderColor: '#000', pointBorderWidth: 1, clip: false}
  ]},
  plugins: [tsDecor],
  options: {
    responsive: false, animation: false, devicePixelRatio: 1, events: [],
    layout: {padding: {left: 0, top: 43, right: 63, bottom: 0}},
    plugins: {legend: {display: false}, tooltip: {enabled: false}},
    scales: {
      x: {type: 'linear', min: 0, max: dayOf(X_TICK_LABELS[X_TICK_LABELS.length - 1]),
          afterBuildTicks: s => { s.ticks = X_TICK_LABELS.map(l => ({value: dayOf(l)})); },
          ticks: {callback: (v, i) => X_TICK_LABELS[i], font: {family: LAT, size: 16}, color: '#000', padding: 8, maxRotation: 0, autoSkip: false},
          grid: {display: false, drawTicks: false}, border: {display: false},
          afterFit: s => { s.height = 85; }},
      y: {type: 'linear', min: -10, max: 10,
          afterBuildTicks: s => { s.ticks = Y_TICKS_TS.map(v => ({value: v})); },
          ticks: {font: {family: LAT, size: 16}, color: '#000', padding: 4},
          grid: {display: false, drawTicks: false}, border: {display: false},
          afterFit: s => { s.width = 137; }}
    }
  }
});
</script>
</body></html>
